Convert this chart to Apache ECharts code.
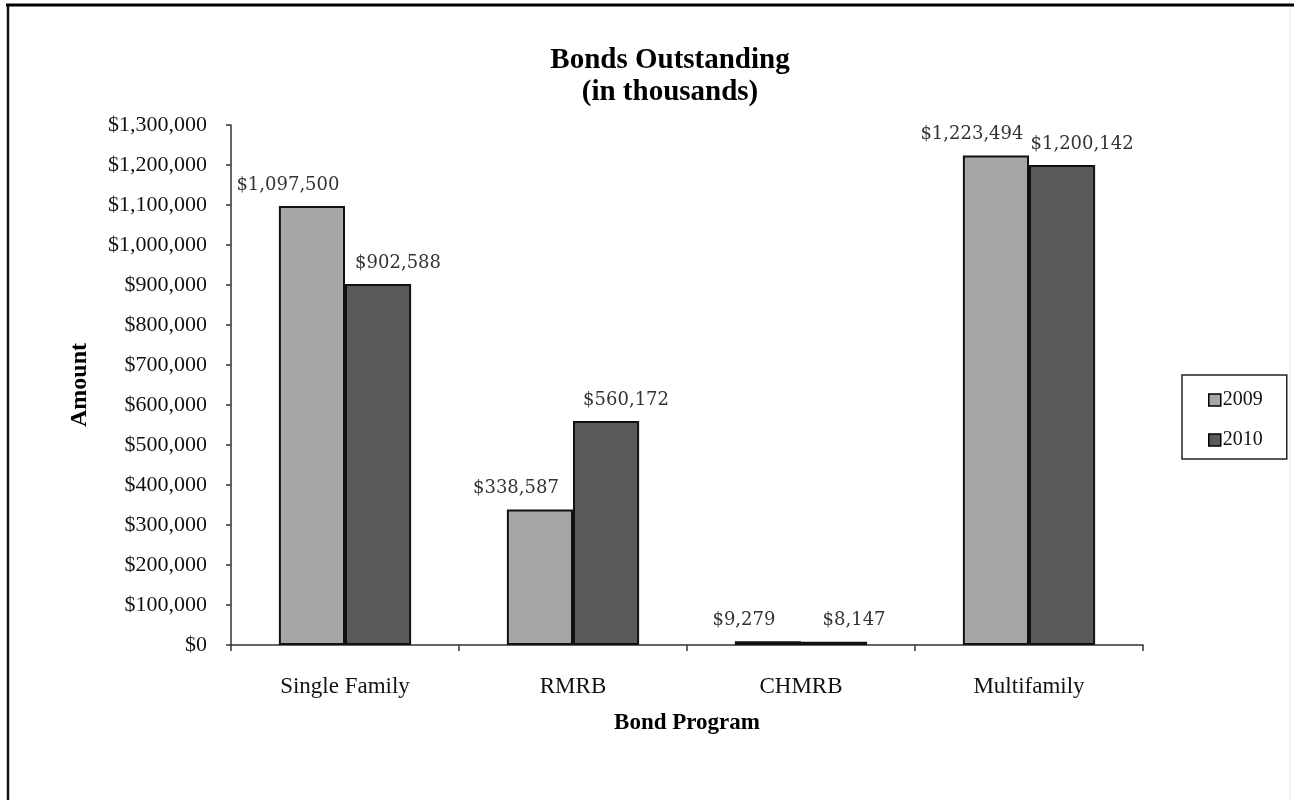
<!DOCTYPE html>
<html>
<head>
<meta charset="utf-8">
<script src="https://cdn.jsdelivr.net/npm/echarts@6/dist/echarts.min.js"></script>
<style>
html,body{margin:0;padding:0;background:#fff;}
#chart{width:1294px;height:800px;}
</style>
</head>
<body>
<div id="chart"></div>
<script>
const categories = ['Single Family', 'RMRB', 'CHMRB', 'Multifamily'];
const values2009 = [1097500, 338587, 9279, 1223494];
const values2010 = [902588, 560172, 8147, 1200142];
const seriesNames = ['2009', '2010'];
const yMin = 0, yMax = 1300000, yInterval = 100000;

const fmt = v => '$' + Number(v).toLocaleString('en-US');
const serif = '"Liberation Serif", "Times New Roman", serif';

const chart = echarts.init(document.getElementById('chart'), null, {renderer: 'canvas'});
chart.setOption({
  backgroundColor: '#ffffff',
  animation: false,
  title: {
    text: 'Bonds Outstanding\n(in thousands)',
    left: 665,
    textAlign: 'center',
    top: 40,
    textStyle: {fontFamily: serif, fontWeight: 'bold', fontSize: 29, lineHeight: 32, color: '#000'}
  },
  legend: {
    orient: 'vertical',
    left: 1182,
    top: 375,
    data: seriesNames,
    icon: 'rect',
    itemWidth: 12,
    itemHeight: 12,
    itemGap: 20,
    padding: [15, 24, 9, 26],
    borderColor: '#222',
    borderWidth: 1.5,
    itemStyle: {borderColor: '#000', borderWidth: 1.5},
    textStyle: {fontFamily: serif, fontSize: 20, color: '#111', padding: [0, 0, 0, -3]}
  },
  grid: {left: 231, right: 151, top: 125, bottom: 155},
  xAxis: {
    type: 'category',
    data: categories,
    name: 'Bond Program',
    nameLocation: 'middle',
    nameGap: 67,
    nameTextStyle: {fontFamily: serif, fontWeight: 'bold', fontSize: 23, color: '#000'},
    axisLine: {lineStyle: {color: '#333', width: 1.5}},
    axisTick: {show: true, length: 6, lineStyle: {color: '#333', width: 1.5}},
    axisLabel: {fontFamily: serif, fontSize: 23, color: '#111', margin: 30}
  },
  yAxis: {
    type: 'value',
    min: yMin,
    max: yMax,
    interval: yInterval,
    name: 'Amount',
    nameLocation: 'middle',
    nameGap: 139,
    nameRotate: 90,
    nameTextStyle: {fontFamily: serif, fontWeight: 'bold', fontSize: 24, color: '#000'},
    axisLine: {show: true, lineStyle: {color: '#333', width: 1.5}},
    axisTick: {show: true, length: 5, lineStyle: {color: '#333', width: 1.5}},
    splitLine: {show: false},
    axisLabel: {fontFamily: serif, fontSize: 22, color: '#111', margin: 24, formatter: fmt}
  },
  series: [
    {
      name: seriesNames[0],
      type: 'bar',
      data: values2009,
      barGap: '0%',
      barCategoryGap: '42%',
      itemStyle: {color: '#a6a6a6', borderColor: '#111', borderWidth: 2},
      label: {show: true, position: 'top', distance: 12, offset: [-24, 0], formatter: p => fmt(p.value),
        fontFamily: '"DejaVu Serif", serif', fontSize: 18, color: '#333'}
    },
    {
      name: seriesNames[1],
      type: 'bar',
      data: values2010,
      barGap: '0%',
      barCategoryGap: '42%',
      itemStyle: {color: '#595959', borderColor: '#111', borderWidth: 2},
      label: {show: true, position: 'top', distance: 12, offset: [20, 0], formatter: p => fmt(p.value),
        fontFamily: '"DejaVu Serif", serif', fontSize: 18, color: '#333'}
    }
  ],
  graphic: [
    {type: 'line', shape: {x1: 6, y1: 5, x2: 1294, y2: 5}, style: {stroke: '#000', lineWidth: 3}},
    {type: 'line', shape: {x1: 8, y1: 5, x2: 8, y2: 800}, style: {stroke: '#111', lineWidth: 2.5}},
    {type: 'line', shape: {x1: 1290, y1: 7, x2: 1290, y2: 800}, style: {stroke: '#e6e6e6', lineWidth: 1}}
  ]
});
</script>
</body>
</html>
